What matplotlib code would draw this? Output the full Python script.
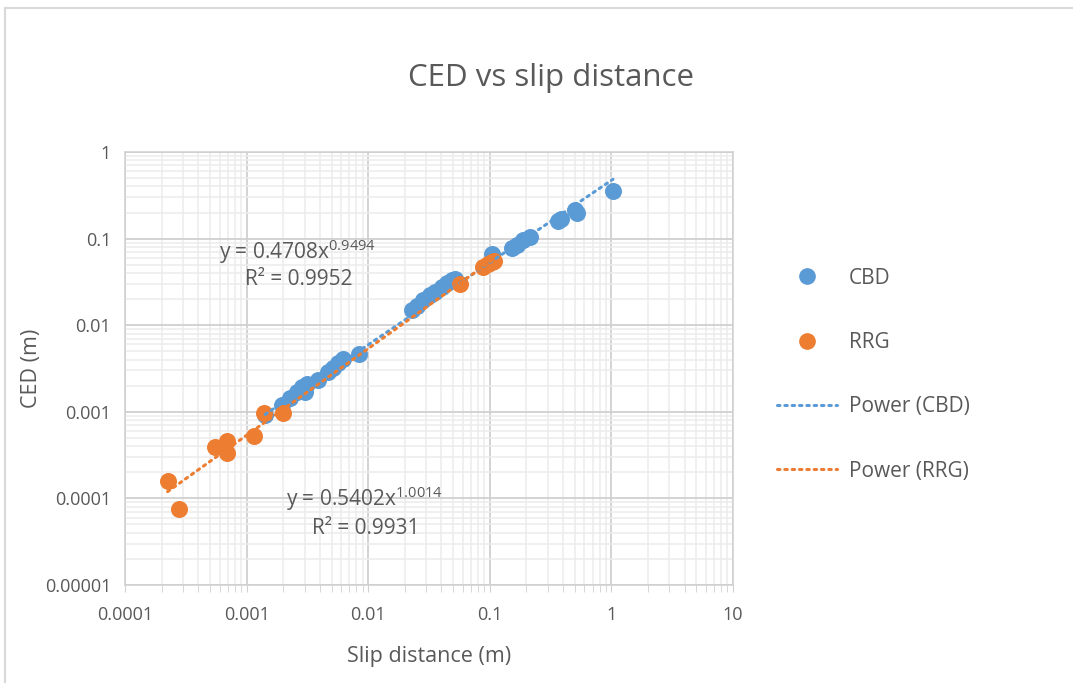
import numpy as np
import matplotlib
matplotlib.use('Agg')
from matplotlib import pyplot as plt
from matplotlib.lines import Line2D
from matplotlib.ticker import LogLocator, FixedLocator

# CBD series
cbd_x = [0.00142, 0.00195, 0.00227, 0.0026, 0.00286, 0.00314, 0.0030, 0.00386,
         0.00467, 0.00514, 0.00565, 0.0062, 0.0084,
         0.0229, 0.0252, 0.0282, 0.0322, 0.0354, 0.0404, 0.0444, 0.0489, 0.0517,
         0.104, 0.152, 0.167, 0.188, 0.214, 0.364, 0.385, 0.502, 0.52, 1.03]
cbd_y = [0.00092, 0.0012, 0.00144, 0.0017, 0.00193, 0.0021, 0.0017, 0.00233,
         0.00288, 0.0032, 0.00366, 0.00407, 0.00465,
         0.015, 0.0165, 0.0195, 0.0223, 0.0242, 0.0276, 0.0308, 0.0335, 0.0345,
         0.066, 0.078, 0.084, 0.096, 0.104, 0.158, 0.17, 0.214, 0.2, 0.355]

# RRG series
rrg_x = [0.000224, 0.000278, 0.00055, 0.00069, 0.00069, 0.00115, 0.00139, 0.0020,
         0.0569, 0.0879, 0.0967, 0.104, 0.108]
rrg_y = [0.000159, 0.000075, 0.00039, 0.00046, 0.00033, 0.00053, 0.00097, 0.00097,
         0.0302, 0.047, 0.051, 0.053, 0.055]

# power trend lines as displayed
cbd_fit = (0.4708, 0.9494, 0.9952)
rrg_fit = (0.5402, 1.0014, 0.9931)

x_ticks = [0.0001, 0.001, 0.01, 0.1, 1, 10]
x_labels = ['0.0001', '0.001', '0.01', '0.1', '1', '10']
y_ticks = [0.00001, 0.0001, 0.001, 0.01, 0.1, 1]
y_labels = ['0.00001', '0.0001', '0.001', '0.01', '0.1', '1']

BLUE = '#5B9BD5'
ORANGE = '#ED7D31'
TXT = '#595959'
FONT = 'Open Sans'

plt.rcParams['font.family'] = [FONT, 'DejaVu Sans']
plt.rcParams['mathtext.fontset'] = 'custom'
plt.rcParams['mathtext.rm'] = FONT
plt.rcParams['mathtext.it'] = FONT

fig = plt.figure(figsize=(10.73, 6.83), dpi=100)
ax = fig.add_axes([125 / 1073, 1 - 585 / 683, 608 / 1073, 433 / 683])
ax.set_xscale('log')
ax.set_yscale('log')
ax.set_xlim(1e-4, 10)
ax.set_ylim(1e-5, 1)

ax.xaxis.set_major_locator(FixedLocator(x_ticks))
ax.yaxis.set_major_locator(FixedLocator(y_ticks))
ax.set_xticklabels(x_labels)
ax.set_yticklabels(y_labels)
ax.xaxis.set_minor_locator(LogLocator(base=10, subs=np.arange(2, 10)))
ax.yaxis.set_minor_locator(LogLocator(base=10, subs=np.arange(2, 10)))
ax.xaxis.set_minor_formatter(matplotlib.ticker.NullFormatter())
ax.yaxis.set_minor_formatter(matplotlib.ticker.NullFormatter())

ax.grid(True, which='major', color='#d0d0d0', lw=1.3)
ax.grid(True, which='minor', color='#ececec', lw=1.1)
ax.set_axisbelow(True)
for s in ax.spines.values():
    s.set_color('#d0d0d0')
    s.set_linewidth(1.1)
ax.tick_params(axis='x', which='both', direction='out', length=5, color='#d0d0d0',
               labelsize=13, labelcolor=TXT, pad=10)
ax.tick_params(axis='y', which='both', length=0, labelsize=13, labelcolor=TXT, pad=10)

ax.scatter(cbd_x, cbd_y, s=150, color=BLUE, zorder=3, linewidths=0)
ax.scatter(rrg_x, rrg_y, s=150, color=ORANGE, zorder=3, linewidths=0)

xs = np.logspace(np.log10(min(cbd_x)), np.log10(max(cbd_x)), 100)
ax.plot(xs, cbd_fit[0] * xs ** cbd_fit[1], color=BLUE, lw=2.2,
        linestyle=(0, (0.8, 1.6)), dash_capstyle='round', zorder=4)
xs = np.logspace(np.log10(min(rrg_x)), np.log10(max(rrg_x)), 100)
ax.plot(xs, rrg_fit[0] * xs ** rrg_fit[1], color=ORANGE, lw=2.2,
        linestyle=(0, (0.8, 1.6)), dash_capstyle='round', zorder=4)

# equation labels
eq_size = 15
ax.text(0.0026, 0.070, 'y = %.4fx$^{%.4f}$' % cbd_fit[:2], ha='center', va='center',
        fontsize=eq_size, color=TXT)
ax.text(0.0027, 0.034, 'R² = %.4f' % cbd_fit[2], ha='center', va='center',
        fontsize=eq_size, color=TXT)
ax.text(0.0093, 0.000099, 'y = %.4fx$^{%.4f}$' % rrg_fit[:2], ha='center', va='center',
        fontsize=eq_size, color=TXT)
ax.text(0.0096, 0.0000455, 'R² = %.4f' % rrg_fit[2], ha='center', va='center',
        fontsize=eq_size, color=TXT)

ax.set_xlabel('Slip distance (m)', fontsize=15.5, color=TXT, labelpad=16)
ax.set_ylabel('CED (m)', fontsize=15.5, color=TXT, labelpad=2)
fig.text(551 / 1073, 1 - 78 / 683, 'CED vs slip distance', ha='center', va='center',
         fontsize=22.5, color=TXT)

handles = [
    Line2D([], [], marker='o', color=BLUE, lw=0, markersize=11),
    Line2D([], [], marker='o', color=ORANGE, lw=0, markersize=11),
    Line2D([], [], color=BLUE, lw=2.2, linestyle=(0, (0.8, 1.6)), dash_capstyle='round'),
    Line2D([], [], color=ORANGE, lw=2.2, linestyle=(0, (0.8, 1.6)), dash_capstyle='round'),
]
labels = ['CBD', 'RRG', 'Power (CBD)', 'Power (RRG)']
leg = fig.legend(handles, labels, loc='upper left', bbox_to_anchor=(758 / 1073, 1 - 249 / 683),
                 frameon=False, fontsize=15, labelspacing=2.08, handlelength=2.9,
                 handletextpad=0.55, labelcolor=TXT)

# chart area border
fig.add_artist(Line2D([5 / 1073, 5 / 1073], [0, 1 - 8 / 683], color='#d9d9d9', lw=1.5))
fig.add_artist(Line2D([5 / 1073, 1], [1 - 8 / 683, 1 - 8 / 683], color='#d9d9d9', lw=1.5))

fig.savefig('out.png', dpi=100)
